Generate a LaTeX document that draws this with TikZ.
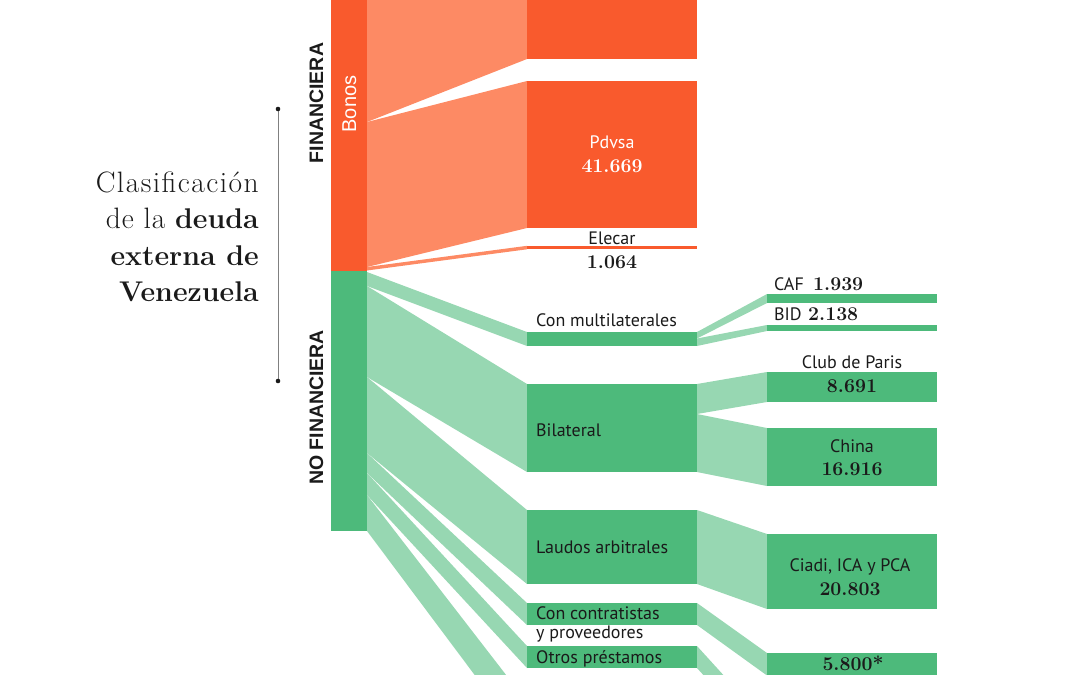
\documentclass[tikz,border=0pt]{standalone}
\usepackage{fontspec}
\newfontfamily\labf{PT Sans}
\newfontfamily\capf{Liberation Sans}
\newfontfamily\ttlight[LetterSpace=5]{Latin Modern Roman}
\newfontfamily\ttlightb[LetterSpace=3]{Latin Modern Roman}
\definecolor{dorange}{HTML}{F95A2D}
\definecolor{lorange}{HTML}{FD8A64}
\definecolor{dgreen}{HTML}{4DBA7B}
\definecolor{lgreen}{HTML}{97D7B2}
\definecolor{ink}{HTML}{1A1A1A}
\tikzset{
  flowO/.style={fill=lorange},
  flowG/.style={fill=lgreen},
  boxO/.style={rectangle,fill=dorange,draw=none,inner sep=0pt,outer sep=0pt,anchor=north west},
  boxG/.style={rectangle,fill=dgreen,draw=none,inner sep=0pt,outer sep=0pt,anchor=north west},
  lbl/.style={font=\labf\fontsize{18}{20}\selectfont,inner sep=0pt,text=ink},
  num/.style={font=\fontsize{19.5}{22}\selectfont\bfseries,inner sep=0pt,text=ink},
  vcap/.style={font=\capf\bfseries\fontsize{19.5}{22}\selectfont,inner sep=0pt,text=ink,rotate=90,anchor=base},
  ttl/.style={inner sep=0pt,anchor=base east,text=ink},
}
\begin{document}
\begin{tikzpicture}[x=1pt,y=-1pt]
\useasboundingbox (0,0) rectangle (1080,675);
\begin{scope}
\clip (0,0) rectangle (1080,675);
% ---------- boxes (nodes) ----------
\node[boxO,minimum width=36pt,minimum height=281pt] (fin) at (331,-10) {};
\node[boxG,minimum width=36pt,minimum height=260pt] (nofin) at (331,271) {};
\node[boxO,minimum width=170pt,minimum height=209pt] (otro) at (527,-150) {};
\node[boxO,minimum width=170pt,minimum height=147pt] (pdvsa) at (527,81) {};
\node[boxO,minimum width=170pt,minimum height=3.5pt] (elecar) at (527,245.8) {};
\node[boxG,minimum width=170pt,minimum height=14pt] (mul) at (527,332) {};
\node[boxG,minimum width=170pt,minimum height=88pt] (bil) at (527,384) {};
\node[boxG,minimum width=170pt,minimum height=74pt] (lau) at (527,510) {};
\node[boxG,minimum width=170pt,minimum height=22pt] (con) at (527,603) {};
\node[boxG,minimum width=170pt,minimum height=22pt] (otr) at (527,646) {};
\node[boxG,minimum width=170pt,minimum height=9pt] (caf) at (767,294) {};
\node[boxG,minimum width=170pt,minimum height=6pt] (bid) at (767,325) {};
\node[boxG,minimum width=170pt,minimum height=30pt] (club) at (767,372) {};
\node[boxG,minimum width=170pt,minimum height=58pt] (china) at (767,428) {};
\node[boxG,minimum width=170pt,minimum height=75pt] (ciadi) at (767,534) {};
\node[boxG,minimum width=170pt,minimum height=40pt] (cinco) at (767,653) {};
% ---------- split coordinates ----------
\coordinate (f0) at (367,-87);
\coordinate (f1) at (367,122);
\coordinate (f2) at (367,267);
\coordinate (f3) at (367,270.5);
\coordinate (s1) at (367,272);
\coordinate (s2) at (367,286);
\coordinate (s3) at (367,377);
\coordinate (s4) at (367,453);
\coordinate (s5) at (367,473);
\coordinate (s6) at (367,495);
\coordinate (s7) at (367,531);
\coordinate (g6a) at (527,702);
\coordinate (g6b) at (527,745);
\coordinate (m1) at (697,338.5);
\coordinate (b1) at (697,414);
\coordinate (c1) at (767,675.5);
\coordinate (o1) at (767,723);
\coordinate (o2) at (767,745);
% ---------- flows ----------
\fill[flowO] (f0) -- (f1) -- (otro.south west) -- (otro.north west) -- cycle;
\fill[flowO] (f1) -- (f2) -- (pdvsa.south west) -- (pdvsa.north west) -- cycle;
\fill[flowO] (f2) -- (f3) -- (elecar.south west) -- (elecar.north west) -- cycle;
\fill[flowG] (s1) -- (s2) -- (mul.south west) -- (mul.north west) -- cycle;
\fill[flowG] (s2) -- (s3) -- (bil.south west) -- (bil.north west) -- cycle;
\fill[flowG] (s3) -- (s4) -- (lau.south west) -- (lau.north west) -- cycle;
\fill[flowG] (s4) -- (s5) -- (con.south west) -- (con.north west) -- cycle;
\fill[flowG] (s5) -- (s6) -- (otr.south west) -- (otr.north west) -- cycle;
\fill[flowG] (s6) -- (s7) -- (g6b) -- (g6a) -- cycle;
\fill[flowG] (mul.north east) -- (m1) -- (caf.south west) -- (caf.north west) -- cycle;
\fill[flowG] (m1) -- (mul.south east) -- (bid.south west) -- (bid.north west) -- cycle;
\fill[flowG] (bil.north east) -- (b1) -- (club.south west) -- (club.north west) -- cycle;
\fill[flowG] (b1) -- (bil.south east) -- (china.south west) -- (china.north west) -- cycle;
\fill[flowG] (lau.north east) -- (lau.south east) -- (ciadi.south west) -- (ciadi.north west) -- cycle;
\fill[flowG] (con.north east) -- (con.south east) -- (c1) -- (cinco.north west) -- cycle;
\fill[flowG] (otr.north east) -- (otr.south east) -- (o2) -- (o1) -- cycle;
% redraw boxes on top
\foreach \b in {fin,otro,pdvsa,elecar}
  \fill[dorange] (\b.north west) rectangle (\b.south east);
\foreach \b in {nofin,mul,bil,lau,con,otr,caf,bid,club,china,ciadi,cinco}
  \fill[dgreen] (\b.north west) rectangle (\b.south east);
\end{scope}
% ---------- vertical captions ----------
\node[vcap] (tfin) at (323,103) {FINANCIERA};
\node[vcap] (tnofin) at (323,407.5) {NO FINANCIERA};
\node[vcap,font=\capf\fontsize{20}{22}\selectfont,text=white] (tbonos) at (356,104) {Bonos};
% ---------- labels ----------
\node[lbl,text=white,anchor=base] (tpdvsa) at (612,148) {Pdvsa};
\node[num,text=white,anchor=base] (npdvsa) at (612,172) {41.669};
\node[lbl,anchor=base] (telecar) at (612,244) {Elecar};
\node[num,anchor=base] (nelecar) at (612,268) {1.064};
\node[lbl,anchor=base west] (tmul) at (536,326) {Con multilaterales};
\node[lbl,anchor=base west] (tbil) at (536,436) {Bilateral};
\node[lbl,anchor=base west] (tlau) at (536,553) {Laudos arbitrales};
\node[lbl,anchor=base west] (tcon) at (536,619) {Con contratistas};
\node[lbl,anchor=base west] (tcon2) at (536,638) {y proveedores};
\node[lbl,anchor=base west] (totr) at (536,663) {Otros préstamos};
\node[lbl,anchor=base west] (tcaf) at (774,290) {CAF};
\node[num,anchor=base west] (ncaf) at (813,290) {1.939};
\node[lbl,anchor=base west] (tbid) at (774,320) {BID};
\node[num,anchor=base west] (nbid) at (808,320) {2.138};
\node[lbl,anchor=base] (tclub) at (852,368) {Club de Paris};
\node[num,anchor=base] (nclub) at (852,392) {8.691};
\node[lbl,anchor=base] (tchina) at (852,452) {China};
\node[num,anchor=base] (nchina) at (852,475) {16.916};
\node[lbl,anchor=base] (tciadi) at (850,571) {Ciadi, ICA y PCA};
\node[num,anchor=base] (nciadi) at (850,595) {20.803};
\node[num,anchor=base] (ncinco) at (853,670) {5.800*};
% ---------- title ----------
\node[ttl,font=\ttlight\fontsize{29.5}{32}\selectfont] (t1) at (259,192) {Clasificación};
\node[ttl,font=\ttlightb\fontsize{29.5}{32}\selectfont] (t2) at (259,228) {de la {\normalfont\bfseries\fontsize{28.5}{32}\selectfont deuda}};
\node[ttl,font=\bfseries\fontsize{28.5}{32}\selectfont] (t3) at (259,265) {externa de};
\node[ttl,font=\bfseries\fontsize{28.5}{32}\selectfont] (t4) at (259,301) {Venezuela};
% ---------- bracket ----------
\coordinate (brtop) at (278,109);
\coordinate (brbot) at (278,381);
\draw[gray,line width=0.8pt] (brtop) -- (brbot);
\fill[ink] (brtop) circle (2.3pt);
\fill[ink] (brbot) circle (2.3pt);
\end{tikzpicture}
\end{document}
